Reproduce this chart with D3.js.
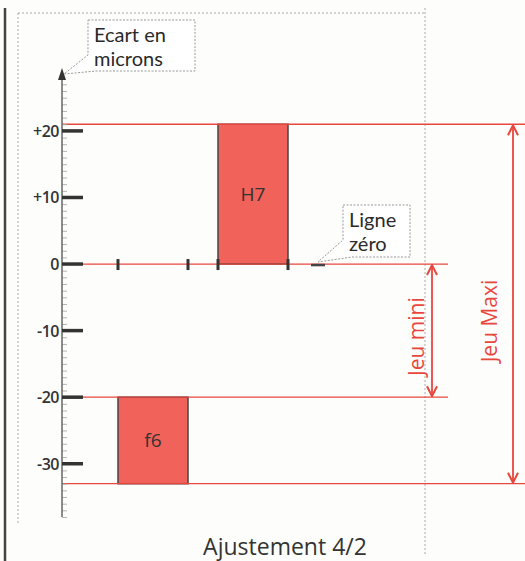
<!DOCTYPE html>
<html>
<head>
<meta charset="utf-8">
<script src="https://cdn.jsdelivr.net/npm/d3@7"></script>
<style>
  body { margin: 0; background: #fdfdfb; }
  svg { display: block; font-family: "Open Sans", sans-serif; }
</style>
</head>
<body>
<div class="chart"></div>
<script>
// data
var tolerances = ["f6", "H7"],
    tolLow = [-33, 0],
    tolHigh = [-20, 21],
    majorTicks = [20, 10, 0, -10, -20, -30],
    tickLabels = ["+20", "+10", "0", "-10", "-20", "-30"],
    jeuNames = ["Jeu mini", "Jeu Maxi"],
    jeuFrom = [0, 21],
    jeuTo = [-20, -33],
    title = "Ajustement 4/2";

var width = 525, height = 561,
    red = "#e8473e",
    fill = "#f0625a",
    ink = "#333";

var svg = d3.select(".chart").append("svg")
    .attr("width", width)
    .attr("height", height);

var yScale = d3.scaleLinear().domain([-38, 29]).range([517, 71]),
    xScale = d3.scaleBand().domain(tolerances).range([118, 288]).paddingInner(0.3).paddingOuter(0),
    axisX = 62;

var defs = svg.append("defs");
defs.append("marker")
    .attr("id", "vhead")
    .attr("viewBox", "0 0 12 12")
    .attr("refX", 11).attr("refY", 6)
    .attr("markerWidth", 12).attr("markerHeight", 12)
    .attr("markerUnits", "userSpaceOnUse")
    .attr("orient", "auto-start-reverse")
  .append("path")
    .attr("d", "M1,1 L11,6 L1,11")
    .style("fill", "none")
    .style("stroke", red)
    .style("stroke-width", 2);

// page frame
svg.append("line")
    .attr("x1", 5).attr("x2", 5).attr("y1", 8).attr("y2", height)
    .style("stroke", "#444").style("stroke-width", 2.5);

var frame = svg.append("g")
    .style("fill", "none")
    .style("stroke", "#aaa")
    .style("stroke-width", 1)
    .style("stroke-dasharray", "2,2");
frame.append("line").attr("x1", 18).attr("x2", 425).attr("y1", 13).attr("y2", 13);
frame.append("line").attr("x1", 18).attr("x2", 18).attr("y1", 13).attr("y2", 525);
frame.append("line").attr("x1", 425).attr("x2", 425).attr("y1", 8).attr("y2", 555);

// tolerance boxes
svg.selectAll(".tol")
    .data(tolerances)
  .enter().append("rect")
    .attr("class", "tol")
    .attr("x", function(d) { return xScale(d); })
    .attr("width", xScale.bandwidth())
    .attr("y", function(d, i) { return yScale(tolHigh[i]); })
    .attr("height", function(d, i) { return yScale(tolLow[i]) - yScale(tolHigh[i]); })
    .style("fill", fill)
    .style("stroke", "#444")
    .style("stroke-width", 1.5);

svg.selectAll(".tolLabel")
    .data(tolerances)
  .enter().append("text")
    .attr("class", "tolLabel")
    .attr("x", function(d) { return xScale(d) + xScale.bandwidth() / 2; })
    .attr("y", function(d, i) { return yScale((tolLow[i] + tolHigh[i]) / 2) + 7; })
    .attr("text-anchor", "middle")
    .style("font-size", "19px")
    .style("fill", ink)
    .text(function(d) { return d; });

// red reference lines
var refs = [
  {v: tolHigh[1], x2: width},
  {v: 0, x2: 448},
  {v: tolHigh[0], x2: 448},
  {v: tolLow[0], x2: width}
];
svg.selectAll(".ref")
    .data(refs)
  .enter().append("line")
    .attr("class", "ref")
    .attr("x1", axisX).attr("x2", function(d) { return d.x2; })
    .attr("y1", function(d) { return yScale(d.v); })
    .attr("y2", function(d) { return yScale(d.v); })
    .style("stroke", red)
    .style("stroke-width", 1.3);

// y axis, minor ticks every micron
var yAxis = d3.axisRight(yScale)
    .tickValues(d3.range(-38, 28, 1))
    .tickSize(5)
    .tickFormat("");
var ag = svg.append("g")
    .attr("transform", "translate(" + axisX + ",0)")
    .call(yAxis);
ag.select(".domain").remove();
ag.selectAll(".tick line").style("stroke", "#b5b5b5").style("stroke-width", 1);

svg.append("line")
    .attr("x1", axisX).attr("x2", axisX)
    .attr("y1", yScale(-38)).attr("y2", 80)
    .style("stroke", "#666").style("stroke-width", 1.5);
svg.append("path")
    .attr("d", "M" + (axisX - 4) + ",80 L" + axisX + ",68 L" + (axisX + 4) + ",80 Z")
    .style("fill", "#333");

svg.selectAll(".major")
    .data(majorTicks)
  .enter().append("line")
    .attr("class", "major")
    .attr("x1", axisX).attr("x2", axisX + 21)
    .attr("y1", function(d) { return yScale(d); })
    .attr("y2", function(d) { return yScale(d); })
    .style("stroke", "#333").style("stroke-width", 3.5);

svg.selectAll(".majorLabel")
    .data(majorTicks)
  .enter().append("text")
    .attr("class", "majorLabel")
    .attr("x", axisX - 3)
    .attr("y", function(d) { return yScale(d) + 6; })
    .attr("text-anchor", "end")
    .style("font-size", "16px")
    .style("font-weight", 600)
    .style("letter-spacing", "-0.5px")
    .style("fill", ink)
    .text(function(d, i) { return tickLabels[i]; });

// ticks on zero line at box edges
var edges = [];
tolerances.forEach(function(t) { edges.push(xScale(t), xScale(t) + xScale.bandwidth()); });
svg.selectAll(".edge")
    .data(edges)
  .enter().append("line")
    .attr("class", "edge")
    .attr("x1", function(d) { return d; }).attr("x2", function(d) { return d; })
    .attr("y1", yScale(0) - 5).attr("y2", yScale(0) + 6)
    .style("stroke", "#333").style("stroke-width", 3);

// jeu arrows
svg.selectAll(".jeu")
    .data(jeuNames)
  .enter().append("line")
    .attr("class", "jeu")
    .attr("x1", function(d, i) { return i ? 513 : 432; })
    .attr("x2", function(d, i) { return i ? 513 : 432; })
    .attr("y1", function(d, i) { return yScale(jeuFrom[i]) + 1; })
    .attr("y2", function(d, i) { return yScale(jeuTo[i]) - 1; })
    .attr("marker-start", "url(#vhead)")
    .attr("marker-end", "url(#vhead)")
    .style("stroke", red).style("stroke-width", 1.8);

svg.selectAll(".jeuLabel")
    .data(jeuNames)
  .enter().append("text")
    .attr("class", "jeuLabel")
    .attr("transform", function(d, i) {
      var cx = i ? 497 : 424;
      var cy = yScale((jeuFrom[i] + jeuTo[i]) / 2) + (i ? 17 : 6);
      return "translate(" + cx + "," + cy + ") rotate(-90)";
    })
    .attr("text-anchor", "middle")
    .style("font-size", "21px")
    .style("fill", red)
    .text(function(d) { return d; });

// callouts
function callout(x, y, w, h, tail, lines) {
  var g = svg.append("g");
  g.append("path")
    .attr("d", "M" + x + "," + y + " H" + (x + w) + " V" + (y + h) + " H" + tail[4] +
               " L" + tail[2] + "," + tail[3] + " L" + x + "," + tail[1] + " Z")
    .style("fill", "#fff")
    .style("stroke", "#999")
    .style("stroke-width", 1)
    .style("stroke-dasharray", "2,1.5");
  g.selectAll("text")
    .data(lines)
  .enter().append("text")
    .attr("x", x + 6)
    .attr("y", function(d, i) { return y + 22 + i * 23.5; })
    .style("font-family", "Lato, sans-serif")
    .style("font-size", "20px")
    .style("fill", "#2a2a2a")
    .text(function(d) { return d; });
}
callout(88, 20, 107, 51, [88, 55, 64, 74, 96], ["Ecart en", "microns"]);
callout(343, 205, 67, 52, [343, 240, 318, 262, 352], ["Ligne", "zéro"]);

svg.append("line")
    .attr("x1", 311).attr("x2", 325)
    .attr("y1", yScale(0) + 1).attr("y2", yScale(0) + 1)
    .style("stroke", "#444").style("stroke-width", 2.5);

svg.append("text")
    .attr("x", 285)
    .attr("y", 555)
    .attr("text-anchor", "middle")
    .style("font-size", "23px")
    .style("fill", ink)
    .text(title);
</script>
</body>
</html>
